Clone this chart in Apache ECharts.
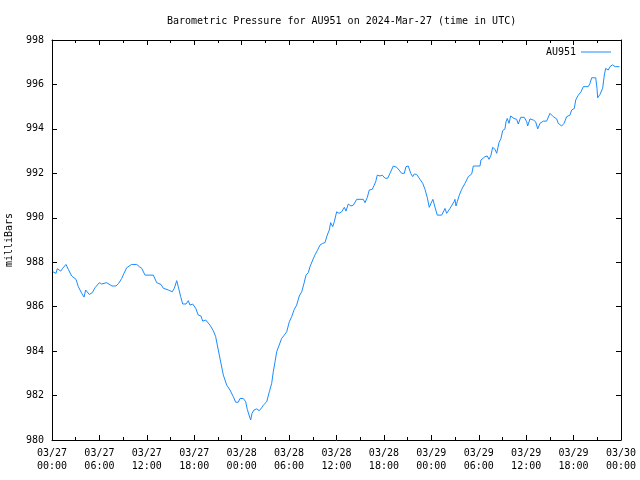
<!DOCTYPE html>
<html>
<head>
<meta charset="utf-8">
<script src="https://cdn.jsdelivr.net/npm/echarts@6/dist/echarts.min.js"></script>
<style>html,body{margin:0;padding:0;background:#fff}#c{width:640px;height:480px}</style>
</head>
<body>
<div id="c"></div>
<script>
// hours since 2024-03-27 00:00 UTC
const hours = [0.1,0.51,0.67,1.10,1.36,1.77,2.06,2.49,3.04,3.33,3.76,4.05,4.26,4.72,5.10,5.44,5.99,6.29,6.92,7.12,7.59,8.10,8.44,8.82,9.11,9.45,10.08,10.72,11.05,11.35,11.77,12.82,13.25,13.79,14.08,14.30,14.72,15.22,15.48,15.78,15.98,16.28,16.54,16.96,17.25,17.46,17.80,18.18,18.51,18.85,19.07,19.45,19.99,20.41,20.71,21.04,21.38,21.68,22.11,22.52,22.94,23.24,23.57,23.79,24.21,24.51,24.71,24.97,25.14,25.31,25.56,25.90,26.23,26.53,26.74,26.95,27.17,27.50,27.80,28.00,28.22,28.43,28.63,29.06,29.39,29.70,30.03,30.33,30.66,30.96,31.29,31.60,31.89,32.14,32.43,32.65,32.99,33.28,33.57,33.91,34.25,34.54,34.83,35.09,35.26,35.52,35.72,36.02,36.32,36.66,36.99,37.20,37.49,37.83,38.13,38.56,39.39,39.61,39.90,40.15,40.53,40.74,40.96,41.16,41.50,41.79,42.14,42.48,42.77,43.19,43.62,43.91,44.25,44.58,44.79,45.08,45.39,45.64,45.84,46.15,46.56,46.91,47.20,47.49,47.74,47.96,48.20,48.42,48.75,49.31,49.73,49.94,50.36,50.58,50.87,50.99,51.12,51.28,51.54,51.84,52.26,52.68,53.11,53.31,54.16,54.28,54.79,55.08,55.30,55.55,55.76,56.06,56.27,56.56,56.81,57.03,57.32,57.45,57.61,57.83,58.04,58.46,58.80,59.00,59.31,59.76,60.07,60.19,60.48,60.90,61.20,61.46,61.75,62.17,62.59,63.01,63.43,63.86,64.06,64.49,64.79,65.13,65.54,65.76,66.09,66.27,66.60,66.94,67.23,67.86,68.08,68.29,68.80,68.96,69.05,69.34,69.68,69.89,70.06,70.39,70.61,70.90,71.27,71.81];
const pressure = [987.57,987.5,987.71,987.6,987.73,987.9,987.68,987.38,987.23,986.9,986.6,986.43,986.75,986.55,986.63,986.85,987.08,987.02,987.08,987.15,986.93,986.93,987.05,987.27,987.5,987.75,987.9,987.9,987.8,987.73,987.42,987.42,987.08,987.0,986.83,986.9,986.75,986.67,986.83,987.17,986.9,986.45,986.12,986.12,986.27,986.07,986.12,985.93,985.62,985.58,985.35,985.4,985.17,984.92,984.65,984.05,983.45,982.92,982.47,982.25,981.95,981.7,981.7,981.87,981.87,981.72,981.38,981.08,980.9,981.2,981.35,981.4,981.32,981.45,981.57,981.5,981.72,982.17,982.55,983.07,983.52,983.97,984.05,984.57,984.72,984.87,985.32,985.55,985.88,986.07,986.48,986.67,987.05,987.42,987.53,987.8,988.1,988.33,988.52,988.77,988.85,988.88,989.22,989.45,989.78,989.6,989.82,990.27,990.2,990.27,990.47,990.3,990.62,990.53,990.57,990.83,990.83,990.68,990.92,991.25,991.28,991.25,991.62,991.92,991.88,991.92,991.78,991.78,992.0,992.33,992.27,992.15,992.0,992.0,992.3,992.33,992.0,991.85,991.97,991.95,991.73,991.55,991.28,990.9,990.47,990.65,990.83,990.53,990.12,990.12,990.42,990.2,990.42,990.47,990.72,990.83,990.53,990.72,991.02,991.28,991.55,991.85,991.97,992.33,992.33,992.6,992.75,992.78,992.63,992.82,993.17,993.08,992.9,993.38,993.57,993.92,994.0,994.32,994.47,994.25,994.58,994.47,994.43,994.22,994.52,994.52,994.32,994.13,994.45,994.4,994.32,994.0,994.25,994.35,994.35,994.7,994.55,994.45,994.25,994.13,994.25,994.55,994.62,994.85,994.92,995.3,995.52,995.67,995.9,995.9,996.05,996.3,996.3,995.83,995.4,995.55,995.83,996.42,996.72,996.65,996.8,996.88,996.8,996.8];
const titleText = 'Barometric Pressure for AU951 on 2024-Mar-27 (time in UTC)';
const seriesName = 'AU951';
const yName = 'milliBars';
const startDay = 27;

const font = 'DejaVu Sans Mono';
const fmtX = v => {
  const d = startDay + Math.floor(v / 24);
  const h = v % 24;
  return '03/' + String(d).padStart(2,'0') + '\n' + String(h).padStart(2,'0') + ':00';
};
const lineStyle = {color:'#000', width:1};
const chart = echarts.init(document.getElementById('c'), null, {renderer:'canvas'});
chart.setOption({
  animation:false,
  backgroundColor:'#fff',
  textStyle:{fontFamily:font},
  title:{text:titleText, left:162, top:11, textStyle:{fontFamily:font, fontSize:10, fontWeight:'normal', color:'#000'}},
  legend:{data:[seriesName], right:24, top:42, align:'right', icon:'rect', itemWidth:30, itemHeight:1, itemGap:7,
    textStyle:{fontFamily:font, fontSize:10, color:'#000', padding:[0,0,0,0]}},
  grid:{left:52, right:19, top:40, bottom:40, containLabel:false, outerBoundsMode:'none'},
  xAxis:[
    {type:'value', min:0, max:72, interval:6, position:'bottom',
     axisLine:{show:true, onZero:false, lineStyle}, axisTick:{inside:true, length:5, lineStyle},
     minorTick:{show:true, splitNumber:2, length:3, lineStyle},
     splitLine:{show:false},
     axisLabel:{formatter:fmtX, color:'#000', fontFamily:font, fontSize:10, margin:7, lineHeight:13}},
    {type:'value', min:0, max:72, interval:6, position:'top',
     axisLine:{show:true, onZero:false, lineStyle}, axisTick:{inside:true, length:5, lineStyle},
     minorTick:{show:true, splitNumber:2, length:3, lineStyle},
     splitLine:{show:false}, axisLabel:{show:false}}
  ],
  yAxis:[
    {type:'value', min:980, max:998, interval:2, position:'left',
     name:yName, nameLocation:'middle', nameGap:38, nameRotate:90,
     nameTextStyle:{fontFamily:font, fontSize:10, color:'#000'},
     axisLine:{show:true, onZero:false, lineStyle}, axisTick:{inside:true, length:5, lineStyle},
     splitLine:{show:false},
     axisLabel:{color:'#000', fontFamily:font, fontSize:10, margin:8}},
    {type:'value', min:980, max:998, interval:2, position:'right',
     axisLine:{show:true, onZero:false, lineStyle}, axisTick:{inside:true, length:5, lineStyle},
     splitLine:{show:false}, axisLabel:{show:false}}
  ],
  series:[{
    name:seriesName, type:'line', xAxisIndex:0, yAxisIndex:0,
    data:hours.map((h,i)=>[h, pressure[i]]),
    symbol:'none', lineStyle:{color:'#1a8cff', width:1}, itemStyle:{color:'#1a8cff'}
  }]
});
</script>
</body>
</html>
